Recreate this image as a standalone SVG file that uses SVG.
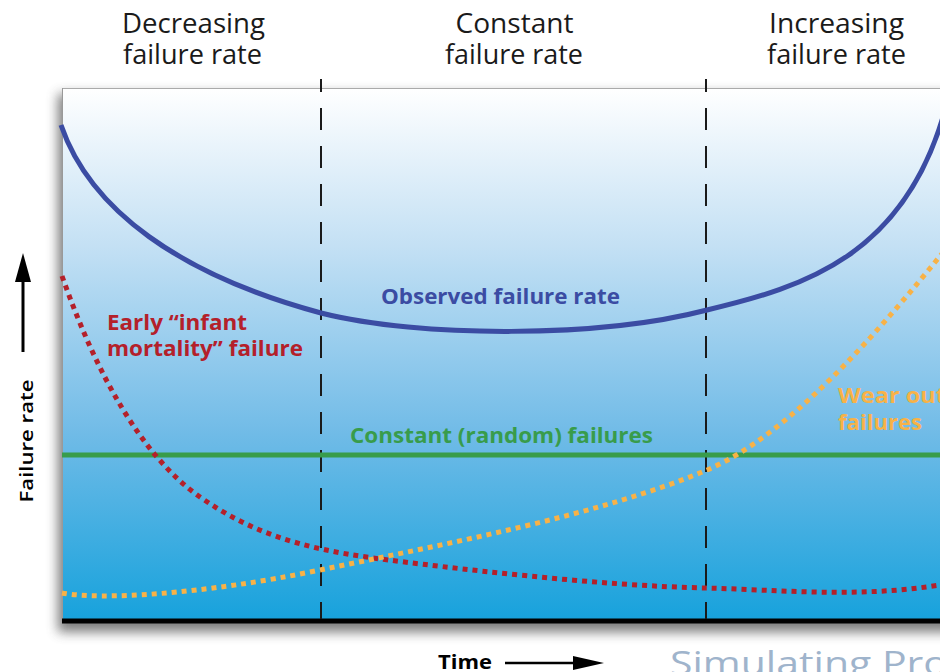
<svg xmlns="http://www.w3.org/2000/svg" width="940" height="672" viewBox="0 0 940 672">
  <defs>
    <linearGradient id="bg" x1="0" y1="0" x2="0" y2="1">
      <stop offset="0" stop-color="#ffffff"/>
      <stop offset="0.3" stop-color="#c3e0f4"/>
      <stop offset="0.65" stop-color="#70bbe7"/>
      <stop offset="1" stop-color="#17a2dc"/>
    </linearGradient>
    <filter id="shadow" x="-10%" y="-10%" width="120%" height="130%">
      <feGaussianBlur stdDeviation="6"/>
    </filter>
  </defs>
  <style>
    .head { font-family: "Open Sans", "Liberation Sans", sans-serif; font-size: 28px; fill: #1a1a1a; }
    .lbl { font-family: "Open Sans", "Liberation Sans", sans-serif; font-size: 21px; font-weight: bold; }
    .divider { stroke: #1a1a1a; stroke-width: 2; stroke-dasharray: 22 16; stroke-dashoffset: 9; fill: none; }
    .dots { fill: none; stroke-width: 5; stroke-dasharray: 5 5; }
  </style>
  <rect width="940" height="672" fill="#ffffff"/>

  <!-- plot box -->
  <g id="plot-area">
    <rect x="58" y="94" width="900" height="538" fill="#444" opacity="0.7" filter="url(#shadow)"/>
    <rect x="62" y="88" width="900" height="532" fill="url(#bg)"/>
    <line x1="62" y1="88.5" x2="940" y2="88.5" stroke="#aaa" stroke-width="1"/>
    <line x1="62.5" y1="88" x2="62.5" y2="620" stroke="#999" stroke-width="1"/>
    <line x1="62" y1="621" x2="940" y2="621" stroke="#000" stroke-width="5"/>
  </g>

  <!-- region dividers -->
  <g id="dividers">
    <line class="divider" x1="321" y1="79" x2="321" y2="619"/>
    <line class="divider" x1="706" y1="79" x2="706" y2="619"/>
  </g>

  <!-- curves -->
  <g id="connectors">
    <path id="observed" d="M61,125 C90,210 180,275 321,313 C420,338 600,338 707,310 C805,287 905,255 945,110" fill="none" stroke="#3b4ca3" stroke-width="5"/>
    <line id="constant" x1="62" y1="455" x2="940" y2="455" stroke="#389c4b" stroke-width="5"/>
    <path id="early" class="dots" stroke="#b4202a" d="M62,276 C95,370 140,455 200,497 C250,532 300,548 373,558 C450,568 600,586 707,588 C780,590 860,598 940,585"/>
    <path id="wearout" class="dots" stroke="#f8b247" d="M62,593 C100,600 200,595 320,570 C450,543 600,515 707,470 C790,435 880,330 945,250"/>
  </g>

  <!-- headers -->
  <g id="hdr-decreasing">
    <text class="head" x="193.5" y="33" text-anchor="middle" textLength="143" lengthAdjust="spacingAndGlyphs">Decreasing</text>
    <text class="head" x="192.5" y="64" text-anchor="middle" textLength="139" lengthAdjust="spacingAndGlyphs">failure rate</text>
  </g>
  <g id="hdr-constant">
    <text class="head" x="514.5" y="33" text-anchor="middle" textLength="118" lengthAdjust="spacingAndGlyphs">Constant</text>
    <text class="head" x="514" y="64" text-anchor="middle" textLength="138" lengthAdjust="spacingAndGlyphs">failure rate</text>
  </g>
  <g id="hdr-increasing">
    <text class="head" x="836.5" y="33" text-anchor="middle" textLength="135" lengthAdjust="spacingAndGlyphs">Increasing</text>
    <text class="head" x="836.5" y="64" text-anchor="middle" textLength="139" lengthAdjust="spacingAndGlyphs">failure rate</text>
  </g>

  <!-- curve labels -->
  <g id="lbl-observed">
    <text class="lbl" x="381" y="304" fill="#3b4ca3" textLength="239" lengthAdjust="spacingAndGlyphs">Observed failure rate</text>
  </g>
  <g id="lbl-early">
    <text class="lbl" x="107" y="330" fill="#b4202a" textLength="140" lengthAdjust="spacingAndGlyphs">Early “infant</text>
    <text class="lbl" x="107" y="356" fill="#b4202a" textLength="196" lengthAdjust="spacingAndGlyphs">mortality” failure</text>
  </g>
  <g id="lbl-constant">
    <text class="lbl" x="350" y="443" fill="#389c4b" textLength="303" lengthAdjust="spacingAndGlyphs">Constant (random) failures</text>
  </g>
  <g id="lbl-wearout">
    <text class="lbl" x="838" y="403" fill="#f8b247" textLength="108" lengthAdjust="spacingAndGlyphs">Wear out</text>
    <text class="lbl" x="838" y="430" fill="#f8b247" textLength="84" lengthAdjust="spacingAndGlyphs">failures</text>
  </g>

  <!-- axes -->
  <g id="y-axis">
    <line x1="23" y1="352" x2="23" y2="275" stroke="#000" stroke-width="3"/>
    <polygon points="23,253 15,282 31,282" fill="#000"/>
    <text x="33" y="441" transform="rotate(-90 33 441)" text-anchor="middle" font-family="'Open Sans', 'Liberation Sans', sans-serif" font-size="18" font-weight="600" fill="#000" textLength="123" lengthAdjust="spacingAndGlyphs">Failure rate</text>
  </g>
  <g id="x-axis">
    <text x="438" y="669" font-family="'Open Sans', 'Liberation Sans', sans-serif" font-size="20" font-weight="bold" fill="#000" textLength="54" lengthAdjust="spacingAndGlyphs">Time</text>
    <line x1="505" y1="663" x2="576" y2="663" stroke="#000" stroke-width="2.5"/>
    <polygon points="604,663 573,656 573,670" fill="#000"/>
  </g>

  <g id="footer">
    <text x="670" y="675" font-family="'Open Sans', 'Liberation Sans', sans-serif" font-size="32" fill="#9fb4cc" textLength="278" lengthAdjust="spacingAndGlyphs">Simulating Pro</text>
  </g>
</svg>
